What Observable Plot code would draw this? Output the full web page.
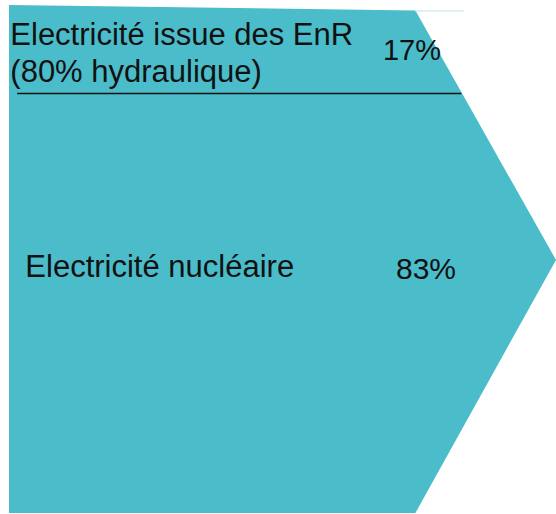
<!DOCTYPE html>
<html>
<head>
<meta charset="utf-8">
<script src="https://cdn.jsdelivr.net/npm/d3@7"></script>
<script src="https://cdn.jsdelivr.net/npm/@observablehq/plot@0.6"></script>
<style>
  html, body { margin: 0; padding: 0; background: #fff; }
</style>
</head>
<body>
<div id="chart"></div>
<script>
// ---- data ----
const categories = ["Electricité issue des EnR\n(80% hydraulique)", "Electricité nucléaire"];
const shares = [17, 83];
const shareLabels = ["17%", "83%"];

// ---- layout (arrow geometry, in relative units) ----
const bodyLen = 1;          // rectangular part of the arrow
const tipLen = 1.346;       // position of the arrow tip
const tipLevel = 50;        // tip sits at mid-height (percent)
const fillColor = "#4bbcca";
const font = "Liberation Sans, Arial, sans-serif";

// cumulative boundaries
const cum = d3.cumsum(shares);
const bounds = [0, ...cum];

const arrow = [
  {x: 0, top: bounds[0] - 0.4, bottom: bounds[2]},
  {x: bodyLen, top: bounds[0] + 0.7, bottom: bounds[2]},
  {x: tipLen, top: tipLevel, bottom: tipLevel}
];

const rows = categories.map((c, i) => ({
  category: c,
  share: shares[i],
  label: shareLabels[i],
  mid: bounds[i] + shares[i] / 2
}));

// label placement per segment
const catX = [0.002, 0.039];
const pctX = [0.919, 0.951];
const labelY = [rows[0].mid, 51.0];
const pctY = [rows[0].mid, 51.8];
const catDy = [1, 0];
const catSize = 31;
const pctSize = [29, 30];

const chart = Plot.plot({
  width: 556,
  height: 514,
  marginLeft: 9,
  marginRight: 0,
  marginTop: 7,
  marginBottom: 1,
  x: {domain: [0, tipLen], axis: null},
  y: {domain: [0, 100], reverse: true, axis: null},
  style: {background: "#fff", fontFamily: font},
  marks: [
    Plot.areaY(arrow, {x: "x", y1: "top", y2: "bottom", fill: fillColor}),
    Plot.ruleY([bounds[0] + 0.7], {x1: bodyLen, x2: 1.12, stroke: "#d6edf1", strokeWidth: 1.5}),
    Plot.ruleY([cum[0]], {x1: 0.02, x2: 1.113, stroke: "#111", strokeWidth: 1.5}),
    ...rows.map((r, i) => Plot.text([r], {
      x: () => catX[i], y: () => labelY[i], text: "category",
      textAnchor: "start", lineAnchor: "middle", lineHeight: 1.2,
      dy: catDy[i], fontSize: catSize, fill: "#111"
    })),
    ...rows.map((r, i) => Plot.text([r], {
      x: () => pctX[i], y: () => pctY[i], text: "label",
      textAnchor: "start", lineAnchor: "middle",
      fontSize: pctSize[i], fill: "#111"
    }))
  ]
});
document.getElementById("chart").appendChild(chart);
</script>
</body>
</html>
